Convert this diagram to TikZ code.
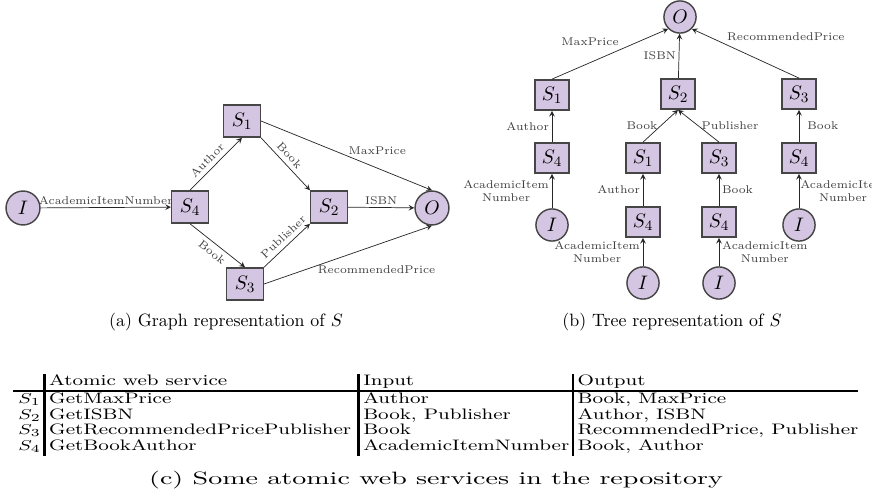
\documentclass[tikz,border=0pt]{standalone}
\usepackage{xcolor}
\usepackage{tikz}
\usetikzlibrary{arrows,positioning}
\definecolor{svcfill}{RGB}{212,197,226}
\definecolor{svcline}{RGB}{70,70,70}
\tikzstyle{svc}=[rectangle,draw=svcline,fill=svcfill,thick,minimum width=20.5pt,minimum height=18pt,inner sep=0pt,font=\fontsize{11}{13}\selectfont]
\tikzstyle{io}=[circle,draw=svcline,fill=svcfill,thick,minimum size=19pt,inner sep=0pt,font=\fontsize{11}{13}\selectfont]
\tikzstyle{tsvc}=[svc,minimum width=19pt,minimum height=17pt]
\tikzstyle{tio}=[io,minimum size=18pt]
\tikzstyle{lbl}=[font=\fontsize{6.3}{7.2}\selectfont,text=black!75,inner sep=1.5pt]
\tikzstyle{flow}=[->,>=stealth,draw=black!85]
\tikzset{wide/.style={xscale=#1,transform shape,inner sep=0pt}}

\begin{document}
\begin{tikzpicture}[x=0.56pt,y=-0.56pt]
        \useasboundingbox (0,0) rectangle (872,501);
        \node at ( 23,208) [io] (gI) {$I$};
        \node at (190,207) [svc] (gS4) {$S_4$};
        \node at (242,121) [svc] (gS1) {$S_1$};
        \node at (329,207) [svc] (gS2) {$S_2$};
        \node at (245,284) [svc] (gS3) {$S_3$};
        \node at (432,208) [io] (gO) {$O$};
        \draw [flow] (gI) to node[lbl,above] {AcademicItemNumber} (gS4);
        \draw [flow] (gS4.north) to node[lbl,pos=0.45,sloped,above=1pt] {Author} (gS1.south);
        \draw [flow] (gS4.south) to node[lbl,sloped,below=1pt] {Book} (gS3.north);
        \draw [flow] (gS1.south east) to node[lbl,pos=0.45,sloped,above=1pt] {Book} (gS2.north west);
        \draw [flow] (gS3.north east) to node[lbl,pos=0.55,sloped,above=1pt] {Publisher} (gS2.south west);
        \draw [flow] (gS1.east) to node[lbl,pos=0.68,above=6pt] {MaxPrice} (gO.north);
        \draw [flow] (gS2) to node[lbl,above] {ISBN} (gO);
        \draw [flow] (gS3.east) to node[lbl,pos=0.67,below=10pt] {RecommendedPrice} (gO.south);

        \node at (680, 17) [tio] (tO) {$O$};
        \node at (552, 95) [tsvc] (tS1) {$S_1$};
        \node at (678, 94) [tsvc] (tS2) {$S_2$};
        \node at (799, 94) [tsvc] (tS3) {$S_3$};
        \node at (552,158) [tsvc] (tS4a) {$S_4$};
        \node at (643,158) [tsvc] (tS1b) {$S_1$};
        \node at (719,158) [tsvc] (tS3b) {$S_3$};
        \node at (799,158) [tsvc] (tS4d) {$S_4$};
        \node at (552,225) [tio] (tIa) {$I$};
        \node at (643,222) [tsvc] (tS4b) {$S_4$};
        \node at (719,222) [tsvc] (tS4c) {$S_4$};
        \node at (799,225) [tio] (tId) {$I$};
        \node at (643,283) [tio] (tIb) {$I$};
        \node at (719,283) [tio] (tIc) {$I$};
        \draw [flow] (tS1.north) to node[lbl,pos=0.6,above left] {MaxPrice} (tO.225);
        \draw [flow] (tS2) to node[lbl,left] {ISBN} (tO);
        \draw [flow] (tS3.north) to node[lbl,pos=0.7,above right] {RecommendedPrice} (tO.315);
        \draw [flow] (tS4a) to node[lbl,left] {Author} (tS1);
        \draw [flow] (tS1b.north) to node[lbl,left] {Book} (tS2.south);
        \draw [flow] (tS3b.north) to node[lbl,right] {Publisher} (tS2.south);
        \draw [flow] (tS4d) to node[lbl,right=3pt] {Book} (tS3);
        \draw [flow] (tS4b) to node[lbl,left] {Author} (tS1b);
        \draw [flow] (tS4c) to node[lbl,right] {Book} (tS3b);
        \draw [flow] (tIa) to node[lbl,left,align=center] {AcademicItem\\Number} (tS4a);
        \draw [flow] (tIb) to node[lbl,left,align=center] {AcademicItem\\Number} (tS4b);
        \draw [flow] (tIc) to node[lbl,right,align=center] {AcademicItem\\Number} (tS4c);
        \draw [flow] (tId) to node[lbl,right=-1pt,align=center] {AcademicItem\\Number} (tS4d);

        \node at (226,322) (capA) {(a) Graph representation of $S$};
        \node at (672,322) (capB) {(b) Tree representation of $S$};

        \node at (13,374) [wide=1.35,anchor=north west,font=\fontsize{8.5}{8.9}\selectfont] (tab) {%
          \setlength{\arrayrulewidth}{1pt}%
          \begin{tabular}{@{\hspace{2pt}}r@{\hspace{1.5pt}}|@{\hspace{1.5pt}}l@{\hspace{3pt}}|@{\hspace{1.5pt}}l@{\hspace{1.5pt}}|@{\hspace{1.5pt}}l@{}}
               & Atomic web service & Input & Output\\ \hline
          $S_1$ & GetMaxPrice & Author & Book, MaxPrice\\
          $S_2$ & GetISBN & Book, Publisher & Author, ISBN\\
          $S_3$ & GetRecommendedPricePublisher & Book & RecommendedPrice, Publisher\\
          $S_4$ & GetBookAuthor & AcademicItemNumber & Book, Author\\
          \end{tabular}};
        \node at (436,480) [wide=1.57] (capC) {(c) Some atomic web services in the repository};
\end{tikzpicture}
\end{document}
